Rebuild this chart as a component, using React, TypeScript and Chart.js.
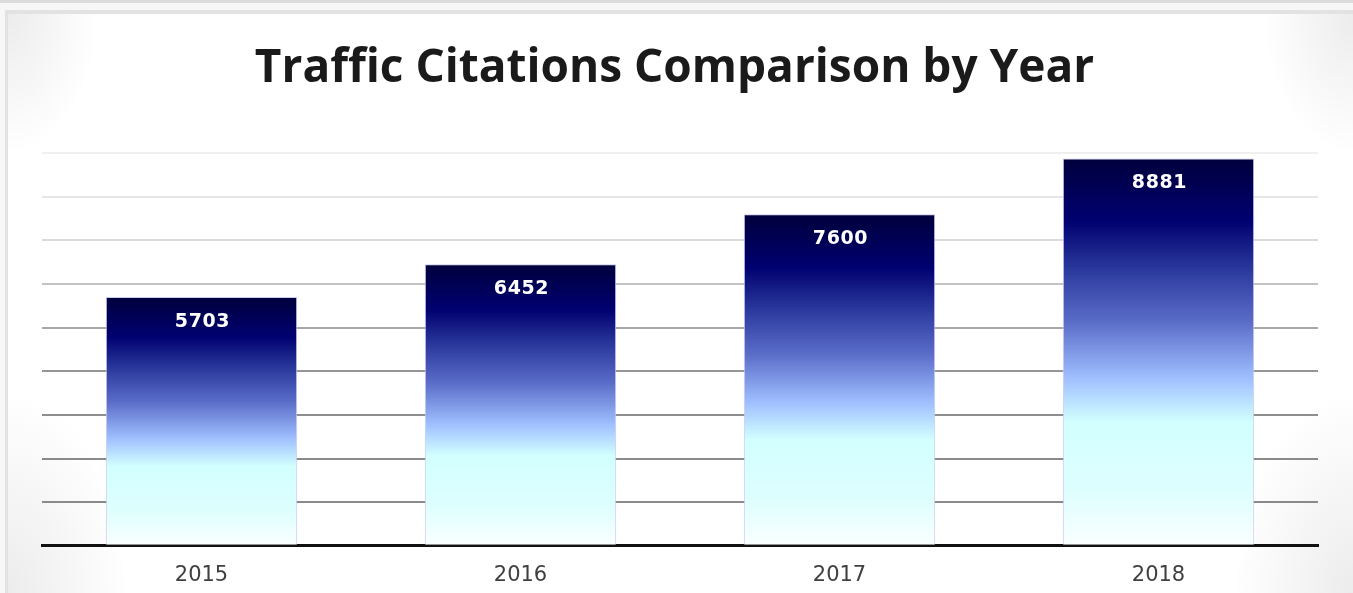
import React, { useEffect, useRef } from "react";
import { Chart, registerables } from "chart.js";

Chart.register(...registerables);

const titleText = "Traffic Citations Comparison by Year";
const years = ["2015", "2016", "2017", "2018"];
const citations = [5703, 6452, 7600, 8881];
const yMax = 9000;
const yStep = 1000;

const gridColors: Record<number, string> = {
  0: "rgba(0,0,0,0)",
  1000: "#8a8a8a",
  2000: "#8a8a8a",
  3000: "#8e8e8e",
  4000: "#959595",
  5000: "#a8a8a8",
  6000: "#c4c4c4",
  7000: "#dadada",
  8000: "#e6e6e6",
  9000: "#f0f0f0",
};

const valueLabels = {
  id: "valueLabels",
  afterDatasetsDraw(chart: any) {
    const ctx = chart.ctx;
    const meta = chart.getDatasetMeta(0);
    ctx.save();
    ctx.fillStyle = "#ffffff";
    ctx.font = "bold 19px 'DejaVu Sans'";
    (ctx as any).letterSpacing = "0.6px";
    ctx.textAlign = "center";
    ctx.textBaseline = "middle";
    meta.data.forEach((el: any, i: number) => {
      ctx.fillText(String(chart.data.datasets[0].data[i]), el.x + 1, el.y + 25);
    });
    ctx.restore();
  },
};

function barGradient(context: any) {
  const chart = context.chart;
  const { ctx, chartArea, scales } = chart;
  if (!chartArea || context.dataIndex === undefined) return "#000070";
  const v = context.raw as number;
  const top = scales.y.getPixelForValue(v);
  const bottom = scales.y.getPixelForValue(0);
  const g = ctx.createLinearGradient(0, top, 0, bottom);
  g.addColorStop(0, "#00003c");
  g.addColorStop(0.16, "#000070");
  g.addColorStop(0.28, "#28369a");
  g.addColorStop(0.42, "#5a6cc8");
  g.addColorStop(0.57, "#a0c0ff");
  g.addColorStop(0.68, "#d2ffff");
  g.addColorStop(0.86, "#defefe");
  g.addColorStop(1, "#fbffff");
  return g;
}

export default function App() {
  const ref = useRef<HTMLCanvasElement>(null);
  useEffect(() => {
    document.body.style.margin = "0";
    const chart = new Chart(ref.current!, {
      type: "bar",
      data: {
        labels: years,
        datasets: [
          {
            data: citations,
            backgroundColor: barGradient,
            borderColor: "#c8c8f0",
            borderWidth: { left: 1, right: 1, top: 1, bottom: 0 },
            borderSkipped: "bottom",
            barPercentage: 0.6,
            categoryPercentage: 1.0,
          },
        ],
      },
      options: {
        animation: false,
        responsive: false,
        maintainAspectRatio: false,
        layout: { padding: { left: 31, right: 35, top: 0, bottom: 3 } },
        plugins: {
          legend: { display: false },
          tooltip: { enabled: false },
          title: {
            display: true,
            text: titleText,
            color: "#1a1a1a",
            font: { family: "'Open Sans'", size: 46, weight: "bold" },
            padding: { top: 41, bottom: 57 },
          },
        },
        scales: {
          x: {
            grid: { display: false },
            border: { display: true, color: "#111111", width: 3 },
            ticks: {
              color: "#404040",
              font: { family: "'DejaVu Sans'", size: 21 },
              padding: 9,
            },
          },
          y: {
            min: 0,
            max: yMax,
            ticks: { display: false, stepSize: yStep },
            border: { display: false },
            grid: {
              drawTicks: false,
              lineWidth: 2,
              color: (c: any) => gridColors[c.tick?.value] ?? "#999999",
            },
            afterFit: (scale: any) => {
              scale.width = 11;
            },
          },
        },
      },
      plugins: [valueLabels],
    });
    return () => chart.destroy();
  }, []);

  return (
    <div style={{ position: "fixed", left: 0, top: 0, width: 1353, height: 593, background: "#f7f7f7", overflow: "hidden" }}>
      <div style={{ position: "absolute", left: 0, top: 0, width: 1353, height: 3, background: "#dcdcdc" }} />
      <div
        style={{
          position: "absolute",
          left: 5,
          top: 10,
          width: 1348,
          height: 583,
          boxSizing: "border-box",
          borderTop: "4px solid #e2e2e2",
          borderLeft: "3px solid #e2e2e2",
          background:
            "radial-gradient(ellipse 90px 140px at 0% 0%, #ececec, rgba(255,255,255,0) 100%), radial-gradient(ellipse 90px 140px at 100% 0%, #ececec, rgba(255,255,255,0) 100%), radial-gradient(ellipse 120px 200px at 0% 100%, #ececec, rgba(255,255,255,0) 100%), radial-gradient(ellipse 120px 200px at 100% 100%, #ececec, rgba(255,255,255,0) 100%), #ffffff",
        }}
      />
      <canvas ref={ref} width={1353} height={600} style={{ position: "absolute", left: 0, top: 0, width: 1353, height: 600 }} />
    </div>
  );
}
